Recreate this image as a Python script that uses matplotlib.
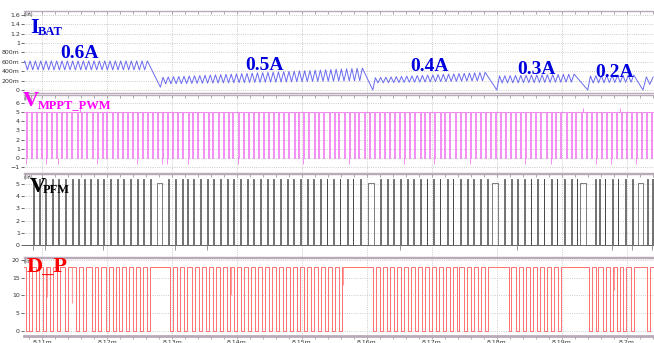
import matplotlib.pyplot as plt
from matplotlib.ticker import FixedLocator, MultipleLocator

# time axis in microseconds (labels shown in ms as in the simulator)
t_ticks = [8110, 8120, 8130, 8140, 8150, 8160, 8170, 8180, 8190, 8200]
t_labels = ["8.11m", "8.12m", "8.13m", "8.14m", "8.15m",
            "8.16m", "8.17m", "8.18m", "8.19m", "8.2m"]
t_min, t_max = 8107.2, 8204.2

# IBAT ripple segments (A): start/end time, value at start, trough and peak envelopes, cycles
seg_t0 = [8106.9, 8128.2, 8160.9, 8180.0, 8194.0, 8202.5]
seg_t1 = [8126.6, 8159.7, 8178.6, 8192.3, 8201.5, 8204.6]
seg_start = [0.50, 0.06, 0.00, 0.00, 0.00, 0.00]
seg_low = [(0.43, 0.43), (0.13, 0.20), (0.15, 0.20), (0.15, 0.17), (0.15, 0.17), (0.12, 0.12)]
seg_high = [(0.62, 0.62), (0.27, 0.47), (0.26, 0.38), (0.30, 0.34), (0.30, 0.32), (0.28, 0.28)]
seg_cycles = [24, 39, 22, 15, 9, 2]

# VMPPT_PWM: start of each low pulse (us)
pwm_low_t = [8107.5, 8108.3, 8109.1, 8109.8, 8110.6, 8111.4, 8112.2, 8112.9, 8113.7, 8114.5,
             8115.3, 8116.0, 8116.8, 8117.6, 8118.4, 8119.2, 8119.9, 8120.7, 8121.5, 8122.3,
             8123.0, 8123.8, 8124.6, 8125.4, 8126.1, 8126.9, 8127.7, 8128.5, 8129.2, 8130.0,
             8130.8, 8131.6, 8132.4, 8133.1, 8133.9, 8134.7, 8135.5, 8136.2, 8137.0, 8137.8,
             8138.6, 8139.3, 8140.1, 8140.9, 8141.7, 8142.4, 8143.2, 8144.0, 8144.8, 8145.6,
             8146.3, 8147.1, 8147.9, 8148.7, 8149.4, 8150.2, 8151.0, 8151.8, 8152.5, 8153.3,
             8154.1, 8154.9, 8155.6, 8156.4, 8157.2, 8158.0, 8158.7, 8159.5, 8160.3, 8161.1,
             8161.9, 8162.6, 8163.4, 8164.2, 8165.0, 8165.7, 8166.5, 8167.3, 8168.1, 8168.8,
             8169.6, 8170.4, 8171.2, 8171.9, 8172.7, 8173.5, 8174.3, 8175.1, 8175.8, 8176.6,
             8177.4, 8178.2, 8178.9, 8179.7, 8180.5, 8181.3, 8182.0, 8182.8, 8183.6, 8184.4,
             8185.1, 8185.9, 8186.7, 8187.5, 8188.3, 8189.0, 8189.8, 8190.6, 8191.4, 8192.1,
             8192.9, 8193.7, 8194.5, 8195.2, 8196.0, 8196.8, 8197.6, 8198.3, 8199.1, 8199.9,
             8200.7, 8201.5, 8202.2, 8203.0, 8203.8]
pwm_under_t = [8107.5, 8110.6, 8112.5, 8118.4, 8124.6, 8128.5, 8129.2, 8132.4,
               8140.1, 8150.2, 8157.2, 8165.7, 8170.4, 8175.8, 8184.4, 8188.3,
               8195.2, 8197.6, 8201.5]
pwm_over_t = [8115.8, 8193.2, 8198.9]

# VPFM: short high pulses (us) and wider flat-high intervals
pfm_high_t = [8108.6, 8109.5, 8110.5, 8111.5, 8112.5, 8113.5, 8114.6, 8115.5, 8116.5, 8117.4,
              8118.5, 8119.4, 8120.5, 8121.5, 8122.5, 8123.5, 8124.6, 8125.5, 8126.6,
              8129.4, 8130.5, 8131.5, 8132.3, 8133.2, 8134.3, 8135.4, 8136.3, 8137.4, 8138.5,
              8139.4, 8140.5, 8141.5, 8142.5, 8143.5, 8144.6, 8145.5, 8146.6, 8147.7, 8148.6,
              8149.7, 8150.8, 8151.7, 8152.8, 8153.8, 8154.8, 8155.8, 8156.9, 8157.8, 8158.9,
              8162.0, 8163.1, 8164.0, 8165.1, 8166.2, 8167.1, 8168.2, 8169.2, 8170.2, 8171.2,
              8172.3, 8173.2, 8174.3, 8175.4, 8176.3, 8177.4, 8178.5,
              8181.1, 8182.2, 8183.1, 8184.2, 8185.2, 8186.2, 8187.2, 8188.3, 8189.2, 8190.3,
              8191.4, 8192.3, 8195.1, 8195.7, 8196.6, 8197.7, 8198.6, 8199.7, 8200.8,
              8203.1, 8203.9]
pfm_flat_t0 = [8127.7, 8160.2, 8179.2, 8192.8, 8201.7]
pfm_flat_t1 = [8128.5, 8161.1, 8180.2, 8193.8, 8202.5]
pfm_under_t = [8108.6, 8110.5, 8119.4, 8130.5, 8135.4, 8165.1, 8183.1, 8197.7, 8200.8, 8203.9]

# D_P: start of each low pulse (us) and partial dips (us, level)
dp_low_t = [8107.5, 8108.0, 8109.1, 8110.2, 8111.2, 8112.3, 8113.5, 8115.2, 8116.3, 8117.7,
            8118.6, 8119.8, 8120.9, 8121.8, 8122.9, 8124.0, 8125.1, 8126.2,
            8129.7, 8130.8, 8131.8, 8133.1, 8134.2, 8135.2, 8136.3, 8137.4, 8138.5, 8139.5,
            8140.6, 8141.7, 8142.8, 8143.8, 8144.9, 8146.0, 8147.1, 8148.2, 8149.2, 8150.3,
            8151.4, 8152.5, 8153.5, 8154.6, 8155.7,
            8160.9, 8162.0, 8163.1, 8164.2, 8165.2, 8166.3, 8167.4, 8168.5, 8169.5, 8170.6,
            8171.7, 8172.8, 8173.8, 8174.9, 8176.0, 8177.1, 8178.2,
            8181.8, 8182.9, 8184.0, 8185.1, 8186.2, 8187.2, 8188.3, 8189.4,
            8194.2, 8195.2, 8196.3, 8197.4, 8198.5, 8199.5, 8200.6, 8203.1]
dp_dip_t = [8110.8, 8114.6, 8139.0, 8156.3, 8198.0]
dp_dip_v = [9.5, 8.0, 10.0, 13.0, 11.5]

ibat_ticks = [0, 0.2, 0.4, 0.6, 0.8, 1.0, 1.2, 1.4, 1.6]
ibat_labels = ["0", "200m", "400m", "600m", "800m", "1", "1.2", "1.4", "1.6"]
pwm_ticks = [-1, 0, 1, 2, 3, 4, 5, 6]
pfm_ticks = [0, 1, 2, 3, 4, 5]
dp_ticks = [0, 5, 10, 15, 20]

W, H = 654, 343
panels_px = [(11, 93), (95, 173), (174, 257), (258, 336)]
ylims = [(-0.064, 1.685), (-1.65, 6.87), (-0.97, 5.8), (-1.4, 20.5)]

fig = plt.figure(figsize=(W / 100, H / 100), dpi=100)
axes = []
for (top, bot), yl in zip(panels_px, ylims):
    ax = fig.add_axes([24 / W, 1 - bot / H, 1 - 24 / W, (bot - top) / H])
    ax.set_xlim(t_min, t_max)
    ax.set_ylim(*yl)
    ax.xaxis.set_major_locator(FixedLocator(t_ticks))
    ax.xaxis.set_minor_locator(MultipleLocator(2))
    ax.grid(True, which="major", ls=":", lw=0.6, color="#bbbbbb")
    for s in ["left", "right"]:
        ax.spines[s].set_visible(False)
    for s in ["top", "bottom"]:
        ax.spines[s].set_color("#b8aab8")
        ax.spines[s].set_linewidth(1.0)
    ax.tick_params(axis="y", labelsize=4.5, length=2, width=0.5, pad=1,
                   colors="#333333")
    ax.tick_params(axis="x", which="both", direction="in", top=True,
                   bottom=False, labelbottom=False, length=2, width=0.5,
                   colors="#888888")
    ax.text(0.0, 0.985, "(lin)", transform=ax.transAxes, fontsize=3.5,
            va="top", ha="left", color="#333333")
    axes.append(ax)

# bottom axis labels
axes[-1].spines["bottom"].set_linewidth(2.0)
axes[-1].tick_params(axis="x", which="both", bottom=True, top=False,
                     labelbottom=True, direction="out", labelsize=4.5,
                     length=2, pad=1, labelcolor="#333333")
axes[-1].set_xticklabels(t_labels)

# IBAT: triangle ripple between the trough and peak envelopes
tv, iv = [], []
for t0, t1, s0, lo, hi, n in zip(seg_t0, seg_t1, seg_start, seg_low, seg_high, seg_cycles):
    tv.append(t0)
    iv.append(s0)
    for k in range(n):
        f = (k + 0.5) / n
        tv.append(t0 + (t1 - t0) * (k + 0.5) / n)
        iv.append(hi[0] + (hi[1] - hi[0]) * f)
        if k < n - 1:
            tv.append(t0 + (t1 - t0) * (k + 1) / n)
            iv.append(lo[0] + (lo[1] - lo[0]) * f)
axes[0].plot(tv, iv, color="#6a6af0", lw=0.7)
axes[0].yaxis.set_major_locator(FixedLocator(ibat_ticks))
axes[0].set_yticklabels(ibat_labels)


def step_trace(t0s, t1s, base, level):
    xs, ys = [t_min - 1], [base]
    for a, b in zip(t0s, t1s):
        xs += [a, a, b, b]
        ys += [base, level, level, base]
    xs.append(t_max + 1)
    ys.append(base)
    return xs, ys


x, y = step_trace(pwm_low_t, [t + 0.15 for t in pwm_low_t], 5.0, 0.0)
axes[1].plot(x, y, color="#f27af2", lw=0.6)
axes[1].vlines(pwm_under_t, -0.7, 0.0, color="#f27af2", lw=0.6)
axes[1].vlines(pwm_over_t, 5.0, 5.5, color="#f27af2", lw=0.6)
axes[1].yaxis.set_major_locator(FixedLocator(pwm_ticks))

x, y = step_trace(pfm_high_t, [t + 0.12 for t in pfm_high_t], 0.0, 5.4)
axes[2].plot(x, y, color="#4a4a4a", lw=0.55)
x, y = step_trace(pfm_flat_t0, pfm_flat_t1, 0.0, 5.1)
axes[2].plot(x, y, color="#666666", lw=0.6)
axes[2].vlines(pfm_under_t, -0.4, 0.0, color="#888888", lw=0.6)
axes[2].yaxis.set_major_locator(FixedLocator(pfm_ticks))

x, y = step_trace(dp_low_t, [t + 0.45 for t in dp_low_t], 18.0, 0.0)
axes[3].plot(x, y, color="#ff7070", lw=0.7)
axes[3].vlines(dp_dip_t, dp_dip_v, 18.0, color="#ff9a9a", lw=0.8)
axes[3].yaxis.set_major_locator(FixedLocator(dp_ticks))

serif = "Liberation Serif"

# panel labels (baseline positions in px)
fig.text(30 / W, 1 - 33 / H, "I", fontsize=16, color="#0000dd", family=serif, weight="bold")
fig.text(38 / W, 1 - 35 / H, "BAT", fontsize=9, color="#0000dd", family=serif, weight="bold")
for s, xp, yp in [("0.6A", 60, 58), ("0.5A", 245, 70), ("0.4A", 410, 71),
                  ("0.3A", 517, 74), ("0.2A", 595, 77)]:
    fig.text(xp / W, 1 - yp / H, s, fontsize=14, color="#0000dd", family=serif, weight="bold")

fig.text(23 / W, 1 - 106 / H, "V", fontsize=16, color="#ff00ff", family=serif, weight="bold")
fig.text(38 / W, 1 - 108 / H, "MPPT_PWM", fontsize=9, color="#ff00ff", family=serif, weight="bold")
fig.text(30 / W, 1 - 192 / H, "V", fontsize=16, color="#000000", family=serif, weight="bold")
fig.text(43 / W, 1 - 193 / H, "PFM", fontsize=9, color="#000000", family=serif, weight="bold")
fig.text(27 / W, 1 - 272 / H, "D_P", fontsize=16, color="#ff0000", family=serif, weight="bold")

fig.savefig("out.png", dpi=100)
